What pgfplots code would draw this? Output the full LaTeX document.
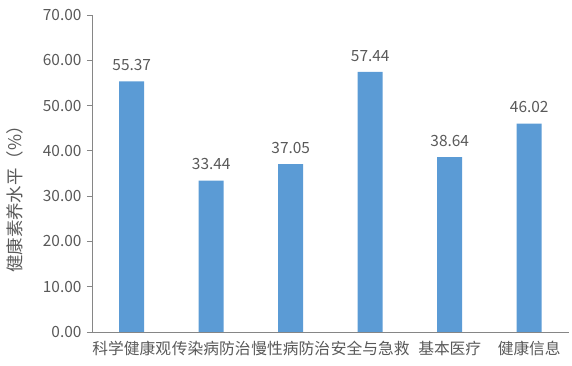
\documentclass[border=0pt]{standalone}
\usepackage{pgfplots}
\pgfplotsset{compat=1.18}
\usepackage{fontspec}
\setmainfont{Noto Sans CJK SC}
\definecolor{barblue}{HTML}{5B9BD5}
\definecolor{txtgray}{HTML}{595959}
\definecolor{axgray}{HTML}{868686}
\begin{document}
\begin{tikzpicture}
\begin{axis}[
  scale only axis,
  width=477bp, height=317bp,
  xmin=-0.5, xmax=5.5,
  ymin=0, ymax=70,
  ytick distance=10,
  axis lines*=left,
  axis line style={axgray, line width=0.8pt},
  xtick=data,
  xticklabels={科学健康观,传染病防治,慢性病防治,安全与急救,基本医疗,健康信息},
  x tick style={draw=none},
  y tick style={axgray, line width=0.8pt},
  tick align=outside,
  major tick length=5bp,
  /pgf/number format/assume math mode=true,
  yticklabel style={/pgf/number format/fixed, /pgf/number format/fixed zerofill, /pgf/number format/precision=2, xshift=-2bp, font=\fontsize{15.5}{18}\selectfont},
  tick label style={text=txtgray},
  xticklabel style={yshift=-1bp, font=\fontsize{15.8}{18}\selectfont},
  ylabel={\fontsize{17.5}{20}\selectfont 健康素养水平（\%）},
  ylabel style={at={(axis description cs:-0.161,0.432)}, anchor=center, text=txtgray},
  nodes near coords,
  nodes near coords style={font=\fontsize{15.5}{18}\selectfont, text=txtgray, /pgf/number format/fixed, /pgf/number format/fixed zerofill, /pgf/number format/precision=2, /pgf/number format/assume math mode=true},
  every node near coord/.append style={yshift=7bp},
]
\addplot[ybar, bar width=25bp, fill=barblue, draw=none] coordinates {
  (0,55.37) (1,33.44) (2,37.05) (3,57.44) (4,38.64) (5,46.02)
};
\end{axis}
\pgfresetboundingbox
\path (-92bp,-34bp) rectangle (480bp,332bp);
\end{tikzpicture}
\end{document}
